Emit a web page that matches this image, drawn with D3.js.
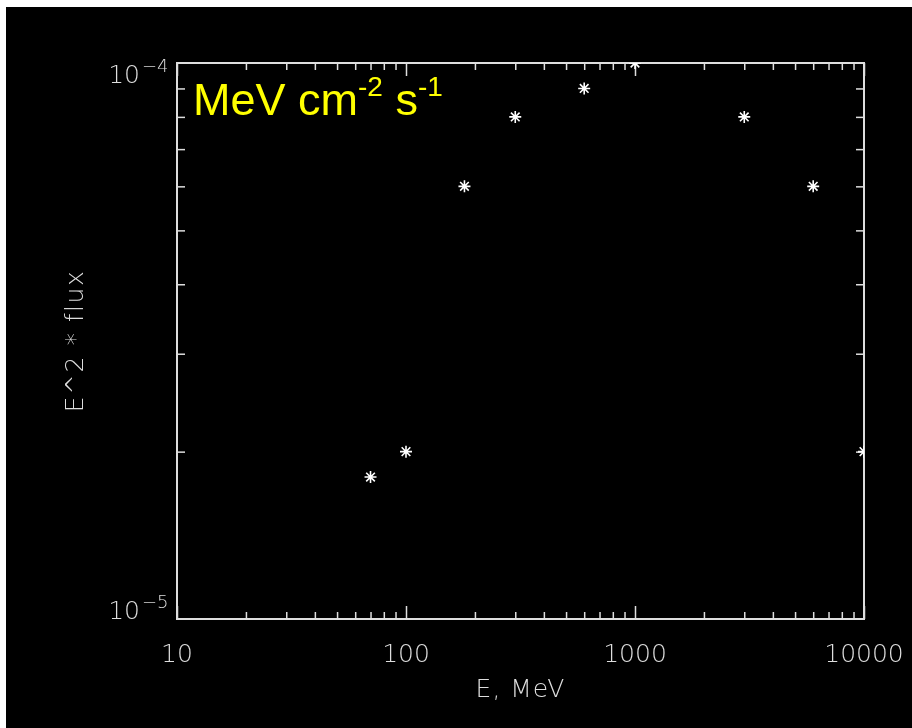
<!DOCTYPE html>
<html>
<head>
<meta charset="utf-8">
<title>E^2 * flux</title>
<script src="https://cdn.jsdelivr.net/npm/d3@7"></script>
<style>
  body { margin: 0; background: #fff; }
  svg { display: block; will-change: transform; }
  text { -webkit-font-smoothing: antialiased; }
</style>
</head>
<body>
<div id="visContainer"></div>
<script>
'use strict';

// data
var energies = [70, 100, 180, 300, 600, 1000, 3000, 6000, 10000];
var fluxes = [1.8e-5, 2.0e-5, 6.0e-5, 8.0e-5, 9.0e-5, 1.0e-4, 8.0e-5, 6.0e-5, 2.0e-5];

// axis ticks and labels
var xMajorTicks = [10, 100, 1000, 10000];
var xTickLabels = ['10', '100', '1000', '10000'];
var yMajorTicks = [1e-5, 1e-4];
var yTickExponents = ['\u22125', '\u22124'];

var svg = d3.select('#visContainer')
	.append('svg')
	.attr('width', 912)
	.attr('height', 728);

var PLOT = { left: 177, right: 864, top: 63, bottom: 619 };

var axisColor = '#dedede';
var labelFont = '"DejaVu Sans", sans-serif';

// black canvas, with the thin white strip on the top and left edges
svg.append('rect')
	.attr('x', 6)
	.attr('y', 7)
	.attr('width', 912 - 6)
	.attr('height', 728 - 7)
	.attr('fill', '#000');

var xScale = d3.scaleLog()
	.domain([10, 10000])
	.range([PLOT.left, PLOT.right]);

var yScale = d3.scaleLog()
	.domain([1e-5, 1e-4])
	.range([PLOT.bottom, PLOT.top]);

// minor ticks: everything the log scale offers except the decades
var xMinorTicks = xScale.ticks().filter(function (d) { return xMajorTicks.indexOf(d) < 0; });
var yMinorTicks = yScale.ticks().filter(function (d) {
	return !yMajorTicks.some(function (m) { return Math.abs(m - d) / m < 1e-9; });
});

function styleAxis(g) {
	g.select('.domain').remove();
	g.selectAll('line').attr('stroke', axisColor).attr('stroke-width', 1.5);
	g.selectAll('text').remove();
}

// ticks on all four sides, pointing inward
svg.append('g')
	.attr('transform', 'translate(0,' + PLOT.bottom + ')')
	.call(d3.axisBottom(xScale).tickValues(xMajorTicks).tickSize(-13).tickFormat(''))
	.call(styleAxis);
svg.append('g')
	.attr('transform', 'translate(0,' + PLOT.bottom + ')')
	.call(d3.axisBottom(xScale).tickValues(xMinorTicks).tickSize(-7).tickFormat(''))
	.call(styleAxis);
svg.append('g')
	.attr('transform', 'translate(0,' + PLOT.top + ')')
	.call(d3.axisTop(xScale).tickValues(xMajorTicks).tickSize(-13).tickFormat(''))
	.call(styleAxis);
svg.append('g')
	.attr('transform', 'translate(0,' + PLOT.top + ')')
	.call(d3.axisTop(xScale).tickValues(xMinorTicks).tickSize(-7).tickFormat(''))
	.call(styleAxis);
svg.append('g')
	.attr('transform', 'translate(' + PLOT.left + ',0)')
	.call(d3.axisLeft(yScale).tickValues(yMinorTicks).tickSize(-8).tickFormat(''))
	.call(styleAxis);
svg.append('g')
	.attr('transform', 'translate(' + PLOT.right + ',0)')
	.call(d3.axisRight(yScale).tickValues(yMinorTicks).tickSize(-8).tickFormat(''))
	.call(styleAxis);

// frame
svg.append('rect')
	.attr('x', PLOT.left)
	.attr('y', PLOT.top)
	.attr('width', PLOT.right - PLOT.left)
	.attr('height', PLOT.bottom - PLOT.top)
	.attr('fill', 'none')
	.attr('stroke', axisColor)
	.attr('stroke-width', 2);

// x tick labels
svg.selectAll('.xlabel')
	.data(xMajorTicks)
	.enter().append('text')
	.attr('class', 'xlabel')
	.attr('x', function (d) { return xScale(d); })
	.attr('y', 662)
	.attr('text-anchor', 'middle')
	.attr('fill', axisColor)
	.style('font-family', labelFont)
	.style('font-weight', 200)
	.style('font-size', '25px')
	.text(function (d, i) { return xTickLabels[i]; });

// y tick labels: 10 with superscript exponent
var yLabelShift = [0, 20]; // the top label sits below its tick
var yLabels = svg.selectAll('.ylabel')
	.data(yMajorTicks)
	.enter().append('g')
	.attr('class', 'ylabel')
	.attr('transform', function (d, i) { return 'translate(140,' + (yScale(d) + yLabelShift[i]) + ')'; });

yLabels.append('text')
	.attr('text-anchor', 'end')
	.attr('fill', axisColor)
	.style('font-family', labelFont)
	.style('font-weight', 200)
	.style('font-size', '25px')
	.text('10');

yLabels.append('text')
	.attr('x', 2)
	.attr('y', -11)
	.attr('fill', axisColor)
	.style('font-family', labelFont)
	.style('font-weight', 200)
	.style('font-size', '18px')
	.text(function (d, i) { return yTickExponents[i]; });

// axis titles
svg.append('text')
	.attr('x', (PLOT.left + PLOT.right) / 2)
	.attr('y', 697)
	.attr('text-anchor', 'middle')
	.attr('fill', axisColor)
	.style('font-family', labelFont)
	.style('font-weight', 200)
	.style('font-size', '25px')
	.style('letter-spacing', '1px')
	.text('E, MeV');

svg.append('text')
	.attr('transform', 'translate(83,' + ((PLOT.top + PLOT.bottom) / 2) + ') rotate(-90)')
	.attr('text-anchor', 'middle')
	.attr('fill', axisColor)
	.style('font-family', labelFont)
	.style('font-weight', 200)
	.style('font-size', '25px')
	.style('letter-spacing', '1.5px')
	.text('E^2 * flux');

// units in yellow
var units = svg.append('text')
	.attr('x', 193)
	.attr('y', 115)
	.attr('fill', '#ffff00')
	.style('font-family', '"Liberation Sans", Arial, sans-serif')
	.style('font-size', '45px')
	.style('white-space', 'pre');
units.append('tspan').text('MeV cm');
units.append('tspan').attr('dy', -19).style('font-size', '28px').text('-2');
units.append('tspan').attr('dy', 19).text(' s');
units.append('tspan').attr('dy', -19).style('font-size', '28px').text('-1');

// asterisk markers, clipped to the plot box
svg.append('clipPath')
	.attr('id', 'plotClip')
	.append('rect')
	.attr('x', PLOT.left)
	.attr('y', PLOT.top)
	.attr('width', PLOT.right - PLOT.left)
	.attr('height', PLOT.bottom - PLOT.top);

var r = 6, rd = r * 0.72;
var starPath = 'M' + (-r) + ',0L' + r + ',0' +
	'M0,' + (-r) + 'L0,' + r +
	'M' + (-rd) + ',' + (-rd) + 'L' + rd + ',' + rd +
	'M' + (-rd) + ',' + rd + 'L' + rd + ',' + (-rd);

var points = energies.map(function (e, i) { return { e: e, f: fluxes[i] }; });

svg.append('g')
	.attr('clip-path', 'url(#plotClip)')
	.selectAll('path')
	.data(points)
	.enter().append('path')
	.attr('transform', function (d) { return 'translate(' + xScale(d.e) + ',' + yScale(d.f) + ')'; })
	.attr('d', starPath)
	.attr('stroke', '#fff')
	.attr('stroke-width', 1.6)
	.attr('fill', 'none');
</script>
</body>
</html>
